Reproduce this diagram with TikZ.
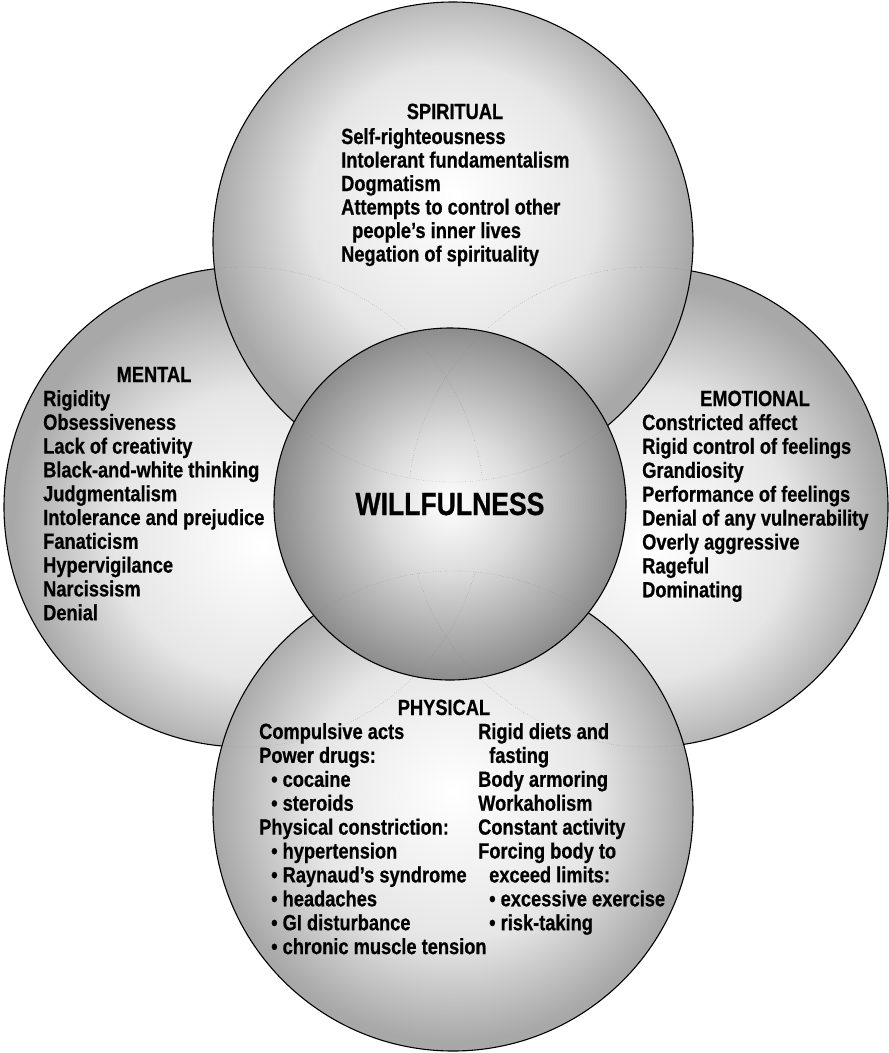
\documentclass[tikz,border=0pt]{standalone}
\usepackage{fontspec}
\setmainfont{Liberation Sans}[FakeStretch=0.83, BoldFeatures={FakeBold=0.6}]
\usepackage{tikz}
\definecolor{rimgray}{gray}{0.66}
\definecolor{midgray}{gray}{0.9}
\definecolor{coremid}{gray}{0.86}
\definecolor{coregray}{gray}{0.55}
\pgfdeclareradialshading{orbspirit}{\pgfpoint{0bp}{5bp}}{color(0bp)=(white); color(15bp)=(midgray); color(25bp)=(rimgray); color(50bp)=(rimgray)}
\pgfdeclareradialshading{orbmental}{\pgfpoint{2bp}{-4bp}}{color(0bp)=(white); color(15bp)=(midgray); color(25bp)=(rimgray); color(50bp)=(rimgray)}
\pgfdeclareradialshading{orbemotion}{\pgfpoint{0bp}{-4bp}}{color(0bp)=(white); color(15bp)=(midgray); color(25bp)=(rimgray); color(50bp)=(rimgray)}
\pgfdeclareradialshading{orbphysical}{\pgfpoint{0bp}{2bp}}{color(0bp)=(white); color(15bp)=(midgray); color(25bp)=(rimgray); color(50bp)=(rimgray)}
\pgfdeclareradialshading{orbcore}{\pgfpoint{0bp}{0bp}}{color(0bp)=(white); color(10bp)=(coremid); color(25bp)=(coregray); color(50bp)=(coregray)}
\tikzset{
  orb/.style={draw=black, line width=1.1pt},
  seethrough/.style={draw=black!50, dotted, line width=0.35pt},
  head/.style={anchor=base, inner sep=0pt, font=\bfseries\fontsize{22}{24}\selectfont},
  item/.style={anchor=base west, inner sep=0pt, font=\bfseries\fontsize{22}{24}\selectfont},
  core/.style={anchor=base, inner sep=0pt, font=\bfseries\fontsize{32}{32}\selectfont},
}

\begin{document}
\begin{tikzpicture}[x=1pt, y=-1pt]
  \useasboundingbox (0,0) rectangle (889,1053);

  % circle centres
  \coordinate (mental) at (244,507);
  \coordinate (emotional) at (648,507);
  \coordinate (spiritual) at (453,242);
  \coordinate (physical) at (453,811);
  \coordinate (core) at (450,504);

  % circles, back to front
  \shadedraw[orb, shading=orbmental] (mental) circle[radius=240];
  \shadedraw[orb, shading=orbemotion] (emotional) circle[radius=240];
  \shadedraw[orb, shading=orbspirit] (spiritual) circle[radius=240];
  \shadedraw[orb, shading=orbphysical] (physical) circle[radius=240];
  \shadedraw[orb, shading=orbcore] (core) circle[radius=176];

  % hidden rims showing through
  \foreach \a/\b/\rb in {mental/spiritual/240, mental/physical/240,
                         emotional/spiritual/240, emotional/physical/240,
                         spiritual/core/176, physical/core/176} {
    \begin{scope}
      \clip (\b) circle[radius=\rb];
      \draw[seethrough] (\a) circle[radius=240];
    \end{scope}
  }

  % Spiritual
  \node[head] (spirit-head) at (455,119) {SPIRITUAL};
  \foreach \x/\t [count=\i] in {341/Self-righteousness, 341/Intolerant fundamentalism, 341/Dogmatism,
                                341/Attempts to control other, 352/people’s inner lives, 341/Negation of spirituality}
    \node[item] (spirit-\i) at (\x, 120.5+23.5*\i) {\t};

  % Mental
  \node[head] (mental-head) at (154,382) {MENTAL};
  \foreach \t [count=\i] in {Rigidity, Obsessiveness, Lack of creativity, Black-and-white thinking, Judgmentalism,
                             Intolerance and prejudice, Fanaticism, Hypervigilance, Narcissism, Denial}
    \node[item] (mental-\i) at (43, 382.2+23.8*\i) {\t};

  % Emotional
  \node[head] (emotion-head) at (755,406) {EMOTIONAL};
  \foreach \t [count=\i] in {Constricted affect, Rigid control of feelings, Grandiosity, Performance of feelings,
                             Denial of any vulnerability, Overly aggressive, Rageful, Dominating}
    \node[item] (emotion-\i) at (642, 406.1+23.9*\i) {\t};

  % Physical - two columns
  \node[head] (physical-head) at (444,715) {PHYSICAL};
  \foreach \x/\t [count=\i] in {259/Compulsive acts, 259/Power drugs:, 271/• cocaine, 271/• steroids,
                                259/Physical constriction:, 271/• hypertension, 271/• Raynaud’s syndrome,
                                271/• headaches, 271/• GI disturbance, 271/• chronic muscle tension}
    \node[item] (physleft-\i) at (\x, 715.1+23.9*\i) {\t};
  \foreach \x/\t [count=\i] in {478/Rigid diets and, 489/fasting, 478/Body armoring, 478/Workaholism,
                                478/Constant activity, 478/Forcing body to, 489/exceed limits:,
                                489/• excessive exercise, 489/• risk-taking}
    \node[item] (physright-\i) at (\x, 715.1+23.9*\i) {\t};

  % centre label
  \node[core] (will) at (450,515) {WILLFULNESS};
\end{tikzpicture}
\end{document}
